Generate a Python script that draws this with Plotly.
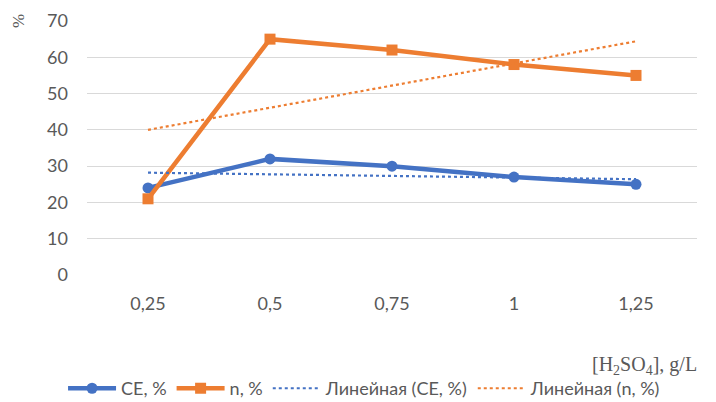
import plotly.graph_objects as go

# data
conc = ['0,25', '0,5', '0,75', '1', '1,25']
ce = [24, 32, 30, 27, 25]
n_vals = [21, 65, 62, 58, 55]
# linear trendlines (endpoints)
trend_x = ['0,25', '1,25']
trend_ce = [28.2, 26.4]
trend_n = [40.0, 64.4]

blue = '#4472C4'
orange = '#ED7D31'
txt = '#595959'
font = 'Lato, Liberation Sans, sans-serif'

fig = go.Figure()

fig.add_trace(go.Scatter(x=conc, y=ce, name='CE, %', mode='lines+markers',
                         line=dict(color=blue, width=4.5),
                         marker=dict(symbol='circle', size=11, color=blue)))
fig.add_trace(go.Scatter(x=conc, y=n_vals, name='n, %', mode='lines+markers',
                         line=dict(color=orange, width=4.5),
                         marker=dict(symbol='square', size=11, color=orange)))
fig.add_trace(go.Scatter(x=trend_x, y=trend_ce, name='Линейная (CE, %)', mode='lines',
                         line=dict(color=blue, width=2.2, dash='dot')))
fig.add_trace(go.Scatter(x=trend_x, y=trend_n, name='Линейная (n, %)', mode='lines',
                         line=dict(color=orange, width=2.2, dash='dot')))

# page body has an 8px margin, so the figure is shifted by 8px
fig.update_layout(
    width=708, height=394,
    margin=dict(l=79, r=19, t=13, b=127, autoexpand=False),
    paper_bgcolor='white', plot_bgcolor='white',
    font=dict(family=font, size=18, color=txt),
    xaxis=dict(type='category', categoryorder='array', categoryarray=conc,
               showgrid=False, showline=False, zeroline=False,
               ticks='', ticklabelstandoff=16,
               range=[-0.5, 4.5]),
    yaxis=dict(range=[0, 70], dtick=10, showgrid=True, gridcolor='#D9D9D9',
               gridwidth=1, zeroline=False, showline=False, ticks='',
               ticklabelstandoff=18),
    legend=dict(orientation='h', x=0.455, xanchor='center', y=-0.447, yanchor='middle',
                font=dict(size=18, color=txt), itemwidth=48, tracegroupgap=0),
    showlegend=True,
)

fig.add_annotation(text='[H<sub>2</sub>SO<sub>4</sub>], g/L', xref='paper', yref='paper',
                   x=1.004, y=-0.355, xanchor='right', yanchor='middle', showarrow=False,
                   font=dict(family='Liberation Serif, Times New Roman, serif', size=20, color=txt))
fig.add_annotation(text='%', xref='paper', yref='paper', x=-0.113, y=1.0,
                   xanchor='center', yanchor='middle', textangle=-90, showarrow=False,
                   font=dict(family='Liberation Serif, Times New Roman, serif', size=17, color=txt))

fig.write_html('out.html')
